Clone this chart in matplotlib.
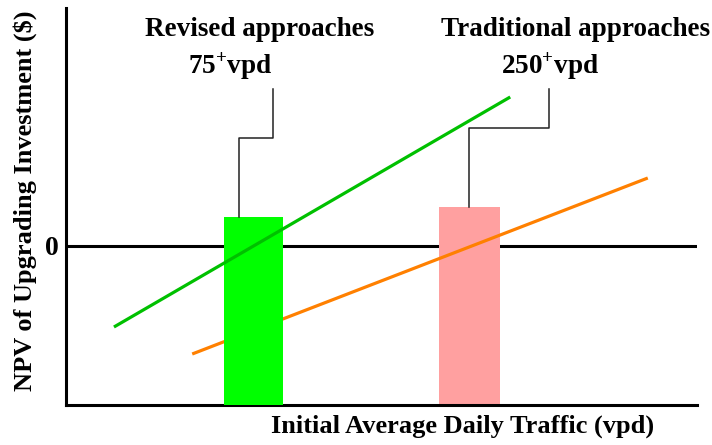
import matplotlib.pyplot as plt
import numpy as np

plt.rcParams['font.family'] = ['Liberation Serif', 'DejaVu Serif']
plt.rcParams['font.weight'] = 'bold'
plt.rcParams['mathtext.fontset'] = 'custom'
plt.rcParams['mathtext.rm'] = 'Liberation Serif:bold'
plt.rcParams['mathtext.bf'] = 'Liberation Serif:bold'

# Data (arbitrary units)
bar_names = ['Revised approaches', 'Traditional approaches']
bar_labels = ['75$^{+}$vpd', '250$^{+}$vpd']
bar_centers = [29.7, 63.9]
bar_widths = [9.35, 9.7]
bar_tops = [0.29, 0.39]
bar_colors = ['#00FF00', '#FFA0A0']

revised_x = [7.6, 70.4]
revised_y = [-0.81, 1.49]
traditional_x = [20.0, 92.2]
traditional_y = [-1.08, 0.68]

# callout elbows: (x at bar, elbow y, x at text, top y)
callouts = [(27.4, 1.08, 32.8, 1.57), (63.9, 1.18, 76.5, 1.57)]
name_pos = [(30.7, 2.16), (80.7, 2.16)]
label_pos = [(26.0, 1.80), (76.7, 1.80)]

y_lo, y_hi = -1.59, 2.38

fig = plt.figure(figsize=(7.12, 4.45), dpi=100)
ax = fig.add_axes([66/712, 40/445, 631/712, 397/445])
ax.set_xlim(0, 100)
ax.set_ylim(y_lo, y_hi)

ax.axhline(0, color='black', lw=2.2, zorder=1)

# pink bar, orange line, green bar, green line (in stacking order)
ax.bar(bar_centers[1], bar_tops[1] - y_lo, bottom=y_lo, width=bar_widths[1],
       color=bar_colors[1], zorder=2)
ax.plot(traditional_x, traditional_y, color='#FF8000', lw=2.3, zorder=3,
        solid_capstyle='butt')
ax.bar(bar_centers[0], bar_tops[0] - y_lo, bottom=y_lo, width=bar_widths[0],
       color=bar_colors[0], zorder=4)
ax.plot(revised_x, revised_y, color='#00C000', lw=2.3, zorder=5,
        solid_capstyle='butt')

for i, (x0, ye, x1, yt) in enumerate(callouts):
    ax.plot([x0, x0, x1, x1], [bar_tops[i], ye, ye, yt], color='#222222',
            lw=1.1, zorder=6)
    ax.text(*name_pos[i], bar_names[i], ha='center', va='center',
            fontsize=19.5, fontweight='bold')
    ax.text(*label_pos[i], bar_labels[i], ha='center', va='center',
            fontsize=19.5, fontweight='bold')

for side in ['top', 'right']:
    ax.spines[side].set_visible(False)
for side in ['left', 'bottom']:
    ax.spines[side].set_linewidth(2.2)
ax.set_xticks([])
ax.set_yticks([0])
ax.set_yticklabels(['0'], fontsize=20, fontweight='bold')
ax.tick_params(axis='y', length=0, pad=5)

fig.text(463/712, 1 - 426/445, 'Initial Average Daily Traffic (vpd)',
         ha='center', va='center', fontsize=19, fontweight='bold')
fig.text(25/712, 1 - 201/445, 'NPV of Upgrading Investment ($)',
         ha='center', va='center', rotation=90, fontsize=19, fontweight='bold')

fig.savefig('out.png', dpi=100)
